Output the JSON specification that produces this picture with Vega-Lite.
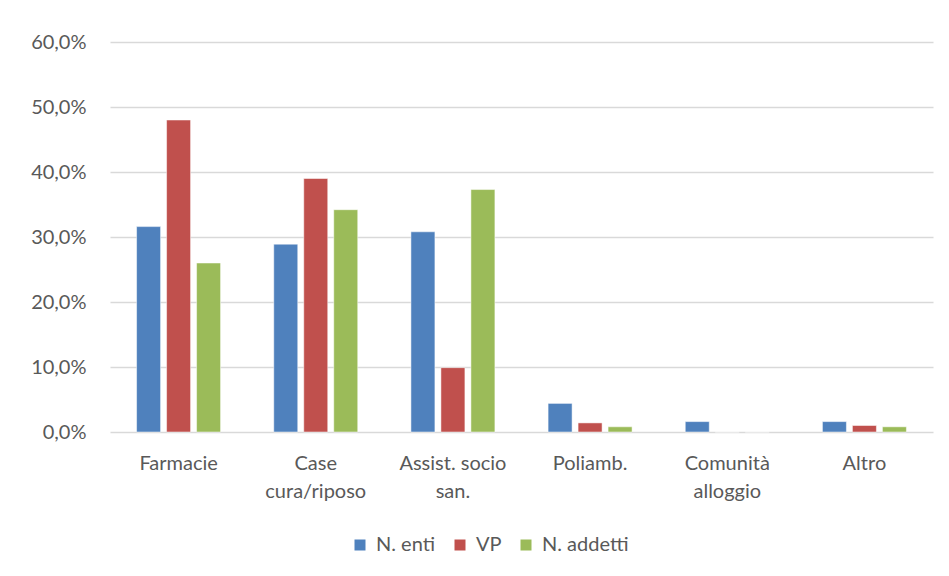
{
  "$schema": "https://vega.github.io/schema/vega-lite/v6.json",
  "width": 823,
  "height": 390,
  "autosize": {"type": "none"},
  "padding": {"left": 110, "top": 42, "right": 16, "bottom": 144},
  "background": "white",
  "data": {
    "values": [
      {"cat": "Farmacie", "serie": "N. enti", "val": 0.316},
      {"cat": "Farmacie", "serie": "VP", "val": 0.480},
      {"cat": "Farmacie", "serie": "N. addetti", "val": 0.260},
      {"cat": "Case cura/riposo", "serie": "N. enti", "val": 0.289},
      {"cat": "Case cura/riposo", "serie": "VP", "val": 0.390},
      {"cat": "Case cura/riposo", "serie": "N. addetti", "val": 0.342},
      {"cat": "Assist. socio san.", "serie": "N. enti", "val": 0.308},
      {"cat": "Assist. socio san.", "serie": "VP", "val": 0.099},
      {"cat": "Assist. socio san.", "serie": "N. addetti", "val": 0.373},
      {"cat": "Poliamb.", "serie": "N. enti", "val": 0.044},
      {"cat": "Poliamb.", "serie": "VP", "val": 0.014},
      {"cat": "Poliamb.", "serie": "N. addetti", "val": 0.008},
      {"cat": "Comunità alloggio", "serie": "N. enti", "val": 0.016},
      {"cat": "Comunità alloggio", "serie": "VP", "val": 0},
      {"cat": "Comunità alloggio", "serie": "N. addetti", "val": 0},
      {"cat": "Altro", "serie": "N. enti", "val": 0.016},
      {"cat": "Altro", "serie": "VP", "val": 0.010},
      {"cat": "Altro", "serie": "N. addetti", "val": 0.008}
    ]
  },
  "mark": {"type": "bar", "stroke": "white", "strokeWidth": 0.5},
  "encoding": {
    "x": {
      "field": "cat",
      "type": "nominal",
      "sort": ["Farmacie", "Case cura/riposo", "Assist. socio san.", "Poliamb.", "Comunità alloggio", "Altro"],
      "scale": {"paddingInner": 0.344, "paddingOuter": 0.172},
      "axis": {
        "title": null,
        "labelAngle": 0,
        "ticks": false,
        "domain": false,
        "labelFont": "Lato",
        "labelFontSize": 20,
        "labelColor": "#595959",
        "labelPadding": 21,
        "labelLineHeight": 28,
        "labelExpr": "datum.label == 'Case cura/riposo' ? ['Case', 'cura/riposo'] : datum.label == 'Assist. socio san.' ? ['Assist. socio', 'san.'] : datum.label == 'Comunità alloggio' ? ['Comunità', 'alloggio'] : datum.label"
      }
    },
    "xOffset": {
      "field": "serie",
      "type": "nominal",
      "sort": ["N. enti", "VP", "N. addetti"],
      "scale": {"paddingInner": 0.2, "paddingOuter": 0.1}
    },
    "y": {
      "field": "val",
      "type": "quantitative",
      "scale": {"domain": [0, 0.6]},
      "axis": {
        "title": null,
        "values": [0, 0.1, 0.2, 0.3, 0.4, 0.5, 0.6],
        "labelExpr": "replace(format(datum.value, '.1%'), '.', ',')",
        "domain": false,
        "ticks": false,
        "grid": true,
        "gridColor": "#d9d9d9",
        "gridWidth": 1.5,
        "labelFont": "Lato",
        "labelFontSize": 20,
        "labelColor": "#595959",
        "labelPadding": 24
      }
    },
    "color": {
      "field": "serie",
      "type": "nominal",
      "sort": ["N. enti", "VP", "N. addetti"],
      "scale": {"domain": ["N. enti", "VP", "N. addetti"], "range": ["#4f81bd", "#c0504d", "#9bbb59"]},
      "legend": {
        "title": null,
        "orient": "none",
        "direction": "horizontal",
        "legendX": 240,
        "legendY": 493,
        "symbolType": "square",
        "symbolSize": 121,
        "symbolStrokeWidth": 0,
        "labelFont": "Lato",
        "labelFontSize": 20,
        "labelColor": "#595959",
        "columnPadding": 14,
        "labelOffset": 6
      }
    }
  },
  "config": {"view": {"stroke": null}}
}
